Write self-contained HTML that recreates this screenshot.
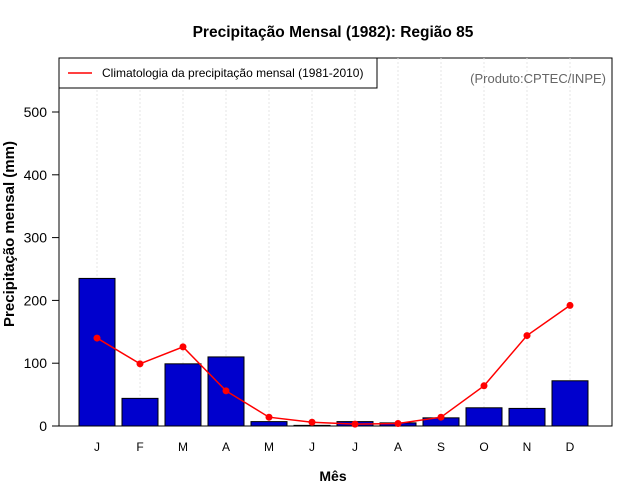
<!DOCTYPE html>
<html><head><meta charset="utf-8"><style>body{margin:0;background:#fff}svg{display:block;font-family:"Liberation Sans",sans-serif}</style></head>
<body>
<svg id="c" width="640" height="500">
<text x="333" y="37" text-anchor="middle" font-weight="bold" font-size="15.5">Precipitação Mensal (1982): Região 85</text>
<rect x="59" y="58" width="553" height="368" fill="none" stroke="#000"/>
<g id="grid"></g><g id="bars"></g><g id="line"></g><g id="axes"></g>
<rect x="59" y="58" width="318" height="30" fill="#fff" stroke="#000"/>
<line x1="68" y1="73" x2="92" y2="73" stroke="#f00" stroke-width="1.5"/>
<text x="102" y="77" font-size="12">Climatologia da precipitação mensal (1981-2010)</text>
<text x="606" y="83" text-anchor="end" font-size="13" fill="#666">(Produto:CPTEC/INPE)</text>
<text x="333" y="481" text-anchor="middle" font-weight="bold" font-size="14">Mês</text>
<text transform="translate(14,234) rotate(-90)" text-anchor="middle" font-weight="bold" font-size="15">Precipitação mensal (mm)</text>
</svg>
<script>
const months=["J","F","M","A","M","J","J","A","S","O","N","D"];
const observed=[235,44,99,110,7,1,7,5,13,29,28,72];
const climatology=[140,99,126,56,14,6,3,4,14,64,144,192];
const yTicks=[0,100,200,300,400,500];
const ns="http://www.w3.org/2000/svg";
const x=i=>97+i*43, y=v=>426-v*0.628;
function mk(t,a,p){const e=document.createElementNS(ns,t);for(const k in a)e.setAttribute(k,a[k]);document.getElementById(p).appendChild(e);return e;}
months.forEach((m,i)=>{
 let g=mk("line",{x1:x(i),x2:x(i),y1:58,y2:426,stroke:"#e4e4e4","stroke-dasharray":"2,2"},"grid");
 
 
 let b=mk("rect",{x:x(i)-18,y:y(observed[i]),width:36,height:426-y(observed[i]),fill:"#0000cd",stroke:"#000"},"bars");
 
 
 let t=mk("text",{x:x(i),y:451,"text-anchor":"middle","font-size":"12"},"axes");t.textContent=m;
 
 
});
let pl=mk("polyline",{points:climatology.map((v,i)=>x(i)+","+y(v)).join(" "),fill:"none",stroke:"#f00","stroke-width":"1.5"},"line");


climatology.forEach((v,i)=>{let c=mk("circle",{cx:x(i),cy:y(v),r:3.5,fill:"#f00"},"line");
 
 });
mk("line",{x1:59,x2:59,y1:y(500),y2:426,stroke:"#000"},"axes");
yTicks.forEach(v=>{mk("line",{x1:52,x2:59,y1:y(v),y2:y(v),stroke:"#000"},"axes");
 let t=mk("text",{x:47,y:y(v)+5,"text-anchor":"end","font-size":"14"},"axes");t.textContent=v;
 
 });
</script>
</body></html>
